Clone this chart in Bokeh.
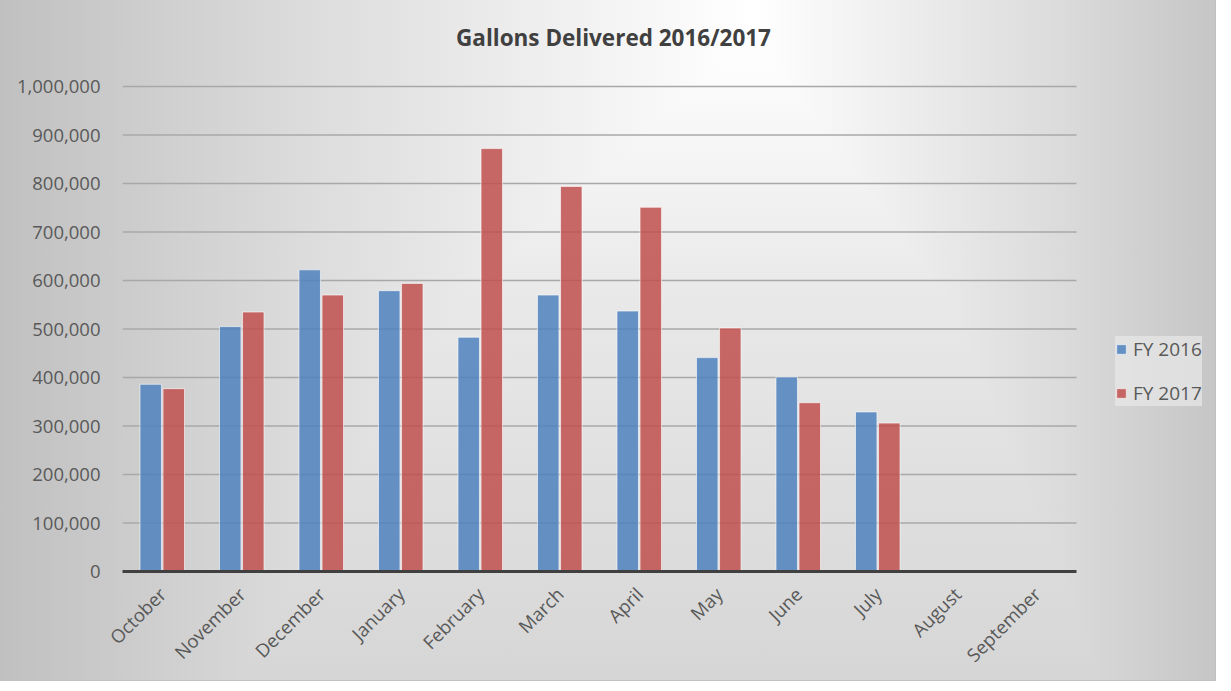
from bokeh.plotting import figure
from bokeh.models import (ColumnDataSource, Range1d, NumeralTickFormatter,
                          FixedTicker, Legend, LegendItem, Label)
from bokeh.transform import dodge
from bokeh.embed import file_html
from bokeh.resources import INLINE
from math import pi

title_text = "Gallons Delivered 2016/2017"
months = ["October", "November", "December", "January", "February", "March",
          "April", "May", "June", "July", "August", "September"]
fy2016 = [386000, 505000, 622000, 579000, 483000, 570000, 537000, 441000, 401000, 329000, None, None]
fy2017 = [377000, 535000, 570000, 594000, 872000, 794000, 751000, 502000, 348000, 306000, None, None]
y_ticks = [0, 100000, 200000, 300000, 400000, 500000, 600000, 700000, 800000, 900000, 1000000]
series_names = ["FY 2016", "FY 2017"]

n = len(months)
idx = list(range(n))
src = ColumnDataSource(data=dict(
    idx=idx,
    month=months,
    fy2016=[v if v is not None else float("nan") for v in fy2016],
    fy2017=[v if v is not None else float("nan") for v in fy2017],
))

FONT = "Open Sans"
TXT = "#595959"

# layout in pixels: frame from x=122 (1 category = 79.5px), y-axis max at 86px from top,
# zero line at 571px from top; the frame extends up to hold the title and right for the legend
PX_CAT = 79.5
TOP_BORDER = 5
RIGHT_BORDER = 2
W, H = 1215, 680
Y_MAX = y_ticks[-1]
y_end = Y_MAX * (571 - TOP_BORDER) / (571 - 86)

x_lo, x_hi = -0.5, n - 0.5
p = figure(x_range=Range1d(x_lo, x_lo + (W - 122 - RIGHT_BORDER) / PX_CAT),
           y_range=Range1d(0, y_end),
           width=W, height=H, output_backend="svg", toolbar_location=None,
           min_border_left=122, min_border_right=RIGHT_BORDER, min_border_top=TOP_BORDER,
           min_border_bottom=109)

p.background_fill_alpha = 0
p.border_fill_alpha = 0
p.outline_line_color = None
p.styles = {
    "background-image": ("linear-gradient(to right, #c0c0c0 0%, #dcdcdc 25%, #ffffff 62%, #dadada 88%, #c6c6c6 100%), "
                         "linear-gradient(to bottom, #ffffff 0%, #ffffff 5%, #e8e8e8 45%, #d6d6d6 100%)"),
    "background-blend-mode": "darken",
    "outline": "1px solid #c0c0c0",
}

# title, placed above the 1,000,000 line inside the (extended) frame
p.add_layout(Label(x=x_lo + (613 - 122) / PX_CAT, y=Y_MAX * (571 - 37) / (571 - 86),
                   text=title_text, text_align="center", text_baseline="middle",
                   text_font=FONT, text_font_style="bold", text_font_size="22.5px",
                   text_color="#404040"))

# horizontal gridlines limited to the category area
grid_src = ColumnDataSource(data=dict(y=y_ticks[1:], x0=[x_lo] * (len(y_ticks) - 1),
                                      x1=[x_hi] * (len(y_ticks) - 1)))
p.segment(x0="x0", x1="x1", y0="y", y1="y", source=grid_src, line_color="#a8a8a8", line_width=1.5)

r1 = p.vbar(x=dodge("idx", -0.145), top="fy2016", width=0.27, source=src,
            fill_color="#4f81bd", fill_alpha=0.85, line_color="white", line_alpha=0.6, line_width=1)
r2 = p.vbar(x=dodge("idx", 0.145), top="fy2017", width=0.27, source=src,
            fill_color="#c0504d", fill_alpha=0.85, line_color="white", line_alpha=0.6, line_width=1)

# axes
p.yaxis.ticker = FixedTicker(ticks=y_ticks)
p.yaxis.formatter = NumeralTickFormatter(format="0,0")
p.yaxis.axis_line_color = None
p.yaxis.major_tick_line_color = None
p.yaxis.minor_tick_line_color = None
p.yaxis.major_label_text_font = FONT
p.yaxis.major_label_text_font_size = "18.5px"
p.yaxis.major_label_text_color = TXT
p.yaxis.major_label_standoff = 16

p.xaxis.ticker = FixedTicker(ticks=idx)
p.xaxis.major_label_overrides = {i: m for i, m in zip(idx, months)}
p.xaxis.bounds = (x_lo, x_hi)
p.xaxis.axis_line_color = "#404040"
p.xaxis.axis_line_width = 3
p.xaxis.major_tick_line_color = None
p.xaxis.minor_tick_line_color = None
p.xaxis.major_label_orientation = pi / 4
p.xaxis.major_label_text_font = FONT
p.xaxis.major_label_text_font_size = "18.5px"
p.xaxis.major_label_text_color = TXT
p.xaxis.major_label_standoff = 13

p.xgrid.grid_line_color = None
p.ygrid.grid_line_color = None

legend = Legend(items=[LegendItem(label=series_names[0], renderers=[r1]),
                       LegendItem(label=series_names[1], renderers=[r2])],
                location=(993, 165), orientation="vertical",
                background_fill_color="#e8e8e8", background_fill_alpha=0.7,
                border_line_color=None,
                label_text_font=FONT, label_text_font_size="19px", label_text_color=TXT,
                glyph_width=12, glyph_height=12, label_standoff=6,
                spacing=18, padding=12, margin=0, label_height=22)
p.add_layout(legend, "center")

open("out.html", "w").write(file_html(p, INLINE))
